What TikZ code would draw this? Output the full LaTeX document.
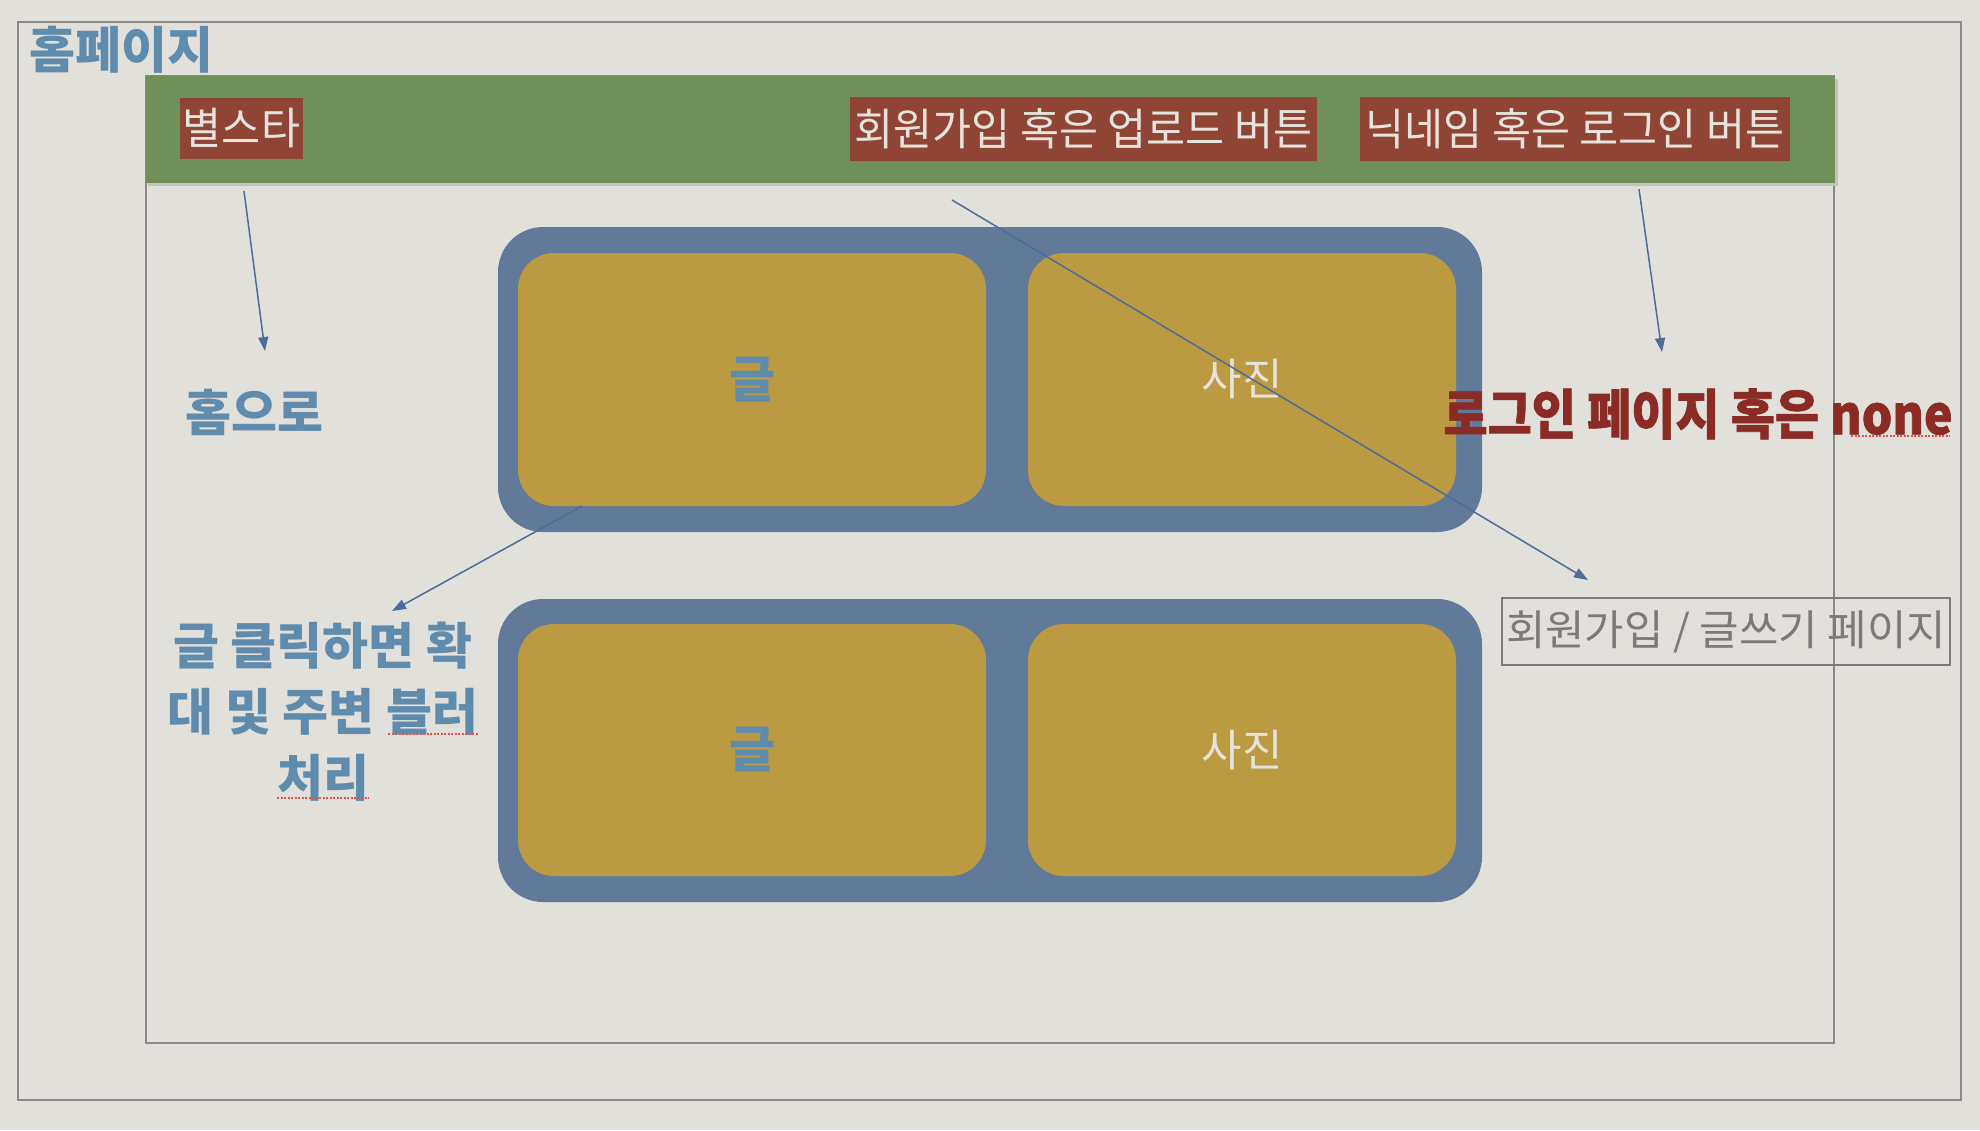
\documentclass[tikz,border=0pt]{standalone}
\usepackage{fontspec}
\usetikzlibrary{arrows.meta,calc}
\newfontfamily\krB[FakeStretch=1.0]{Noto Sans CJK KR}
\newfontfamily\krR[FakeStretch=0.965]{Noto Sans CJK KR}
\newfontfamily\krS[FakeStretch=1.0]{Noto Sans CJK KR}
\newfontfamily\krH[FakeStretch=0.89,FakeBold=1.2]{Noto Sans CJK KR}
\newfontfamily\krP[FakeStretch=1.02]{Noto Sans CJK KR}
\definecolor{bg}{HTML}{E2E0DB}
\definecolor{framegray}{HTML}{8A8985}
\definecolor{barshadow}{HTML}{C4C2BD}
\definecolor{bargreen}{HTML}{6F9059}
\definecolor{rust}{HTML}{8F4434}
\definecolor{btntext}{HTML}{E6E2DC}
\definecolor{boxblue}{HTML}{627A99}
\definecolor{gold}{HTML}{BB9A41}
\definecolor{steel}{HTML}{5F8BAD}
\definecolor{darkred}{HTML}{8A2C25}
\definecolor{arrowblue}{HTML}{4D6C9B}
\definecolor{pagegray}{HTML}{7B7A77}
\definecolor{spell}{HTML}{E0534A}
\begin{document}
\begin{tikzpicture}[x=1pt,y=-1pt,
  frame/.style={draw=framegray, line width=2pt},
  innerframe/.style={draw=framegray, line width=1.5pt},
  btn/.style={fill=rust, text=btntext, font=\krR\fontsize{44}{50}\selectfont, inner sep=0pt},
  bluebox/.style={fill=boxblue, rounded corners=45pt, inner sep=0pt},
  goldbox/.style={fill=gold, rounded corners=36pt, inner sep=0pt},
  bluetxt/.style={text=steel, font=\krB\bfseries\fontsize{50}{66}\selectfont},
  phototxt/.style={text=btntext, font=\krS\fontsize{44}{50}\selectfont},
  arr/.style={draw=arrowblue, line width=1.5pt, -{Triangle[length=14pt,width=10pt]}},
  spellmark/.style={draw=spell, line width=1.2pt, dash pattern=on 2pt off 1.5pt}]
\fill[bg] (0,0) rectangle (1980,1130);
\useasboundingbox (0,0) rectangle (1980,1130);
% frames
\draw[frame] (18,22) rectangle (1961,1100);
\draw[innerframe] (146,76) rectangle (1834,1043);
\fill[barshadow] (148,79) rectangle (1838,186);
\fill[bargreen] (146,76) rectangle (1835,183);
% title
\node[bluetxt] (title) at (121,50) {홈페이지};
% header buttons
\node[btn, minimum width=123pt, minimum height=61pt] (bstar) at (241.5,128.5) {별스타};
\node[btn, minimum width=467pt, minimum height=64pt] (signup) at (1083.5,129) {회원가입 혹은 업로드 버튼};
\node[btn, minimum width=430pt, minimum height=64pt] (nick) at (1575,129) {닉네임 혹은 로그인 버튼};
% rows
\node[bluebox, minimum width=984pt, minimum height=305pt] (row1) at (990,379.5) {};
\node[goldbox, bluetxt, minimum width=468pt, minimum height=253pt] (text1) at (752,379.5) {글};
\node[goldbox, phototxt, minimum width=428pt, minimum height=253pt] (photo1) at (1242,379.5) {사진};
\node[bluebox, minimum width=984pt, minimum height=303pt] (row2) at (990,750.5) {};
\node[goldbox, bluetxt, minimum width=468pt, minimum height=252pt] (text2) at (752,750) {글};
\node[goldbox, phototxt, minimum width=428pt, minimum height=252pt] (photo2) at (1242,750) {사진};
% labels
\node[bluetxt] (home) at (254,412) {홈으로};
\node[text=darkred, font=\krH\bfseries\fontsize{54}{60}\selectfont] (login) at (1698,414) {로그인 페이지 혹은 none};
\node[draw=pagegray, line width=2pt, text=pagegray, font=\krP\fontsize{42}{48}\selectfont,
      minimum width=448pt, minimum height=67pt, inner sep=0pt] (page) at (1726,631.5) {회원가입 / 글쓰기 페이지};
\node[bluetxt, align=center] (click) at (323,712) {글 클릭하면 확\\대 및 주변 블러\\처리};
% spell-check marks
\draw[spellmark] (1851,436) -- (1950,436);
\draw[spellmark] (388,734) -- (478,734);
\draw[spellmark] (277,798) -- (369,798);
% arrows
\draw[arr] ($(bstar)+(2.5,62.5)$) -- ($(home)+(11,-61)$);
\draw[arr] ($(signup)+(-131.5,71)$) -- ($(page)+(-138,-51.5)$);
\draw[arr] ($(nick)+(64,60)$) -- ($(login)+(-36,-62)$);
\draw[arr] ($(text1)+(-170,126.5)$) -- ($(click)+(69,-101)$);
\end{tikzpicture}
\end{document}
